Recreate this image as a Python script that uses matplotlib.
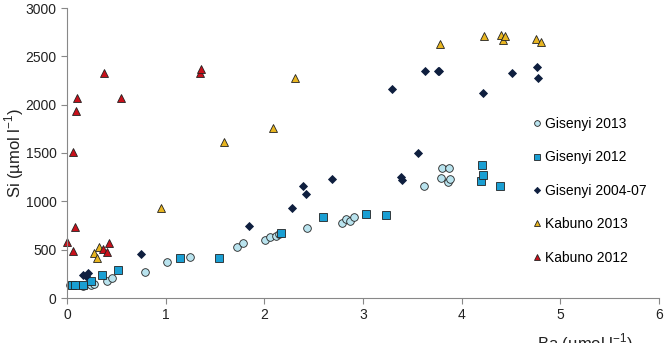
import matplotlib
matplotlib.use("Agg")
import matplotlib.pyplot as plt

plt.rcParams['font.family'] = ['Liberation Sans', 'DejaVu Sans']
plt.rcParams['mathtext.fontset'] = 'custom'
plt.rcParams['mathtext.rm'] = 'Liberation Sans'

# Gisenyi 2013
gis13_ba = [0.03, 0.16, 0.24, 0.27, 0.41, 0.46, 0.79, 1.01, 1.25, 1.72, 1.78, 2.01, 2.06,
            2.12, 2.15, 2.43, 2.79, 2.83, 2.87, 2.91, 3.62, 3.79, 3.80, 3.86, 3.87, 3.88]
gis13_si = [134, 126, 134, 145, 179, 204, 269, 369, 427, 531, 566, 600, 628,
            645, 662, 721, 779, 817, 797, 841, 1158, 1244, 1347, 1203, 1347, 1227]

# Gisenyi 2012
gis12_ba = [0.05, 0.08, 0.16, 0.24, 0.35, 0.52, 1.15, 1.54, 2.17, 2.59, 3.03, 3.23,
            4.20, 4.21, 4.22, 4.39]
gis12_si = [134, 134, 134, 179, 238, 290, 417, 417, 669, 841, 866, 858,
            1213, 1375, 1272, 1160]

# Gisenyi 2004-07
gis04_ba = [0.16, 0.19, 0.21, 0.75, 1.84, 2.28, 2.39, 2.42, 2.69, 3.29, 3.39, 3.40,
            3.56, 3.63, 3.76, 3.77, 4.22, 4.51, 4.76, 4.77]
gis04_si = [238, 231, 255, 452, 745, 928, 1161, 1072, 1227, 2165, 1248, 1220,
            1500, 2347, 2351, 2351, 2124, 2324, 2392, 2279]

# Kabuno 2013
kab13_ba = [0.27, 0.30, 0.32, 0.95, 1.59, 2.09, 2.31, 3.78, 4.23, 4.40, 4.42, 4.44, 4.75, 4.80]
kab13_si = [462, 417, 530, 934, 1617, 1760, 2275, 2623, 2713, 2720, 2668, 2713, 2678, 2647]

# Kabuno 2012
kab12_ba = [0.0, 0.06, 0.06, 0.08, 0.09, 0.10, 0.36, 0.37, 0.41, 0.43, 0.55, 1.35, 1.36]
kab12_si = [576, 486, 1510, 737, 1937, 2071, 503, 2330, 473, 566, 2071, 2330, 2366]

fig = plt.figure(figsize=(6.65, 3.43), dpi=100)
ax = fig.add_axes([67/665, 1 - 298/343, 592/665, 290/343])

ax.plot(gis13_ba, gis13_si, 'o', ms=5.5, mfc='#b9e3ee', mec='#222222', mew=0.6,
        label='Gisenyi 2013', clip_on=False)
ax.plot(gis12_ba, gis12_si, 's', ms=5.5, mfc='#1a9fd3', mec='#222222', mew=0.6,
        label='Gisenyi 2012', clip_on=False)
ax.plot(gis04_ba, gis04_si, 'D', ms=4.2, mfc='#0f1f3f', mec='#0f1f3f', mew=0.6,
        label='Gisenyi 2004-07', clip_on=False)
ax.plot(kab13_ba, kab13_si, '^', ms=6, mfc='#e8b520', mec='#222222', mew=0.6,
        label='Kabuno 2013', clip_on=False)
ax.plot(kab12_ba, kab12_si, '^', ms=6, mfc='#c8101a', mec='#222222', mew=0.6,
        label='Kabuno 2012', clip_on=False)

ax.set_xlim(0, 6)
ax.set_ylim(0, 3000)
ax.set_xticks(range(0, 7))
ax.set_yticks(range(0, 3001, 500))
for s in ['top', 'right']:
    ax.spines[s].set_visible(False)
for s in ['left', 'bottom']:
    ax.spines[s].set_color('#888888')
    ax.spines[s].set_linewidth(0.8)
ax.tick_params(colors='#888888', labelcolor='#222222', labelsize=10, length=4, width=0.8)

ax.set_xlabel('Ba (µmol l$^{\\mathregular{-1}}$)', fontsize=12, color='#222222')
ax.xaxis.set_label_coords(0.875, -0.115)
ax.set_ylabel('Si (µmol l$^{\\mathregular{-1}}$)', fontsize=12, color='#222222')
ax.yaxis.set_label_coords(-0.07, 0.5)

leg = ax.legend(loc='upper left', bbox_to_anchor=(526/665, 1 - 110/343),
                bbox_transform=fig.transFigure, frameon=False, fontsize=10,
                markerscale=0.75, handlelength=0.6, handletextpad=0.3,
                labelspacing=1.4, borderpad=0)

fig.savefig('out.png', dpi=100)
